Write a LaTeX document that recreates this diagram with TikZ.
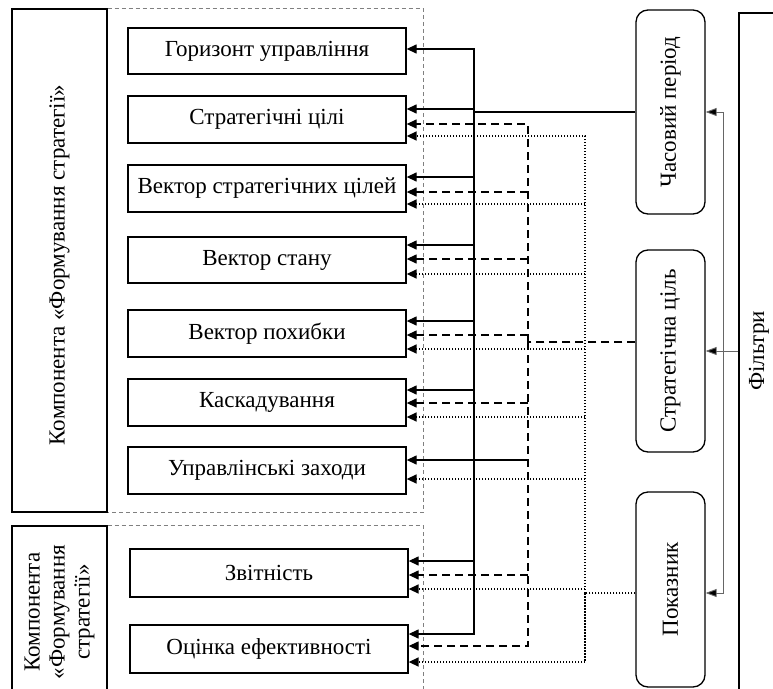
\documentclass[tikz,border=0pt]{standalone}
\usepackage{fontspec}
\setmainfont{Liberation Serif}
\usetikzlibrary{arrows.meta}
\newcommand\myfs{\fontsize{23}{25}\selectfont}
\newcommand\myconn[4]{\draw[#1] (#2 |- 0,#4) -- (#3.east |- 0,#4);}
\begin{document}
\begin{tikzpicture}[x=1pt,y=-1pt,
  tip/.tip={Triangle[length=10pt,width=9pt]},
  box/.style={draw, line width=1.3pt, minimum width=278pt, minimum height=47pt, inner sep=0pt, font=\myfs},
  rbox/.style={draw, line width=1.3pt, rounded corners=12pt, inner sep=0pt, font=\myfs, rotate=90},
  lbox/.style={draw, line width=1.3pt, minimum width=95pt, inner sep=0pt, font=\myfs, align=center},
  gdash/.style={draw=gray, line width=0.9pt, dash pattern=on 4pt off 3pt},
  sline/.style={line width=1.3pt},
  sarr/.style={sline, -tip},
  dline/.style={line width=1.3pt, dash pattern=on 8pt off 5pt},
  darr/.style={dline, -tip},
  oline/.style={line width=1.5pt, dash pattern=on 1.5pt off 1.5pt},
  oarr/.style={oline, -tip},
  farr/.style={draw=black!60, line width=0.9pt, -{Triangle[length=11pt,width=8pt,fill=black]}}
]
\useasboundingbox (0,0) rectangle (773,688);
\clip (0,0) rectangle (773,688);

% left component boxes
\node[lbox, minimum height=503pt] (lb1) at (59.5,260.5) {};
\node[font=\myfs, rotate=90] (lt1) at (59.5,265) {Компонента «Формування стратегії»};
\node[lbox, minimum height=172pt] (lb2) at (59.5,612) {};
\node[font=\myfs, rotate=90, align=center] (lt2) at (lb2.center) {Компонента\\«Формування\\стратегії»};

% gray dashed areas
\coordinate (gx) at (423,0);
\draw[gdash] (lb1.north east) -- (gx |- lb1.north east) -- (gx |- lb1.south east) -- (lb1.south east);
\draw[gdash] (lb2.north east) -- (gx |- lb2.north east) -- (gx |- 0,700);

% element boxes
\node[box, minimum height=46pt] (b1) at (267,51) {Горизонт управління};
\node[box] (b2) at (267,119.5) {Стратегічні цілі};
\node[box] (b3) at (267,188.5) {Вектор стратегічних цілей};
\node[box, minimum height=46pt] (b4) at (267,260) {Вектор стану};
\node[box] (b5) at (267,333.5) {Вектор похибки};
\node[box] (b6) at (267,402.5) {Каскадування};
\node[box] (b7) at (267,470.5) {Управлінські заходи};
\node[box, minimum height=48pt] (b8) at (269,573) {Звітність};
\node[box, minimum height=48pt] (b9) at (269,649) {Оцінка ефективності};

% right rounded boxes (rotated: north = left side, south = right side)
\node[rbox, minimum width=204pt, minimum height=69pt] (p1) at (670.5,112) {Часовий період};
\node[rbox, minimum width=202pt, minimum height=69pt] (p2) at (670.5,351) {Стратегічна ціль};
\node[rbox, minimum width=195pt, minimum height=69pt] (p3) at (670.5,589.5) {Показник};

% filters
\node[draw, line width=1.3pt, minimum width=42pt, minimum height=680pt, inner sep=0pt] (filt) at (760,353) {};
\node[font=\myfs, rotate=90] (ft) at (759,351) {Фільтри};

% buses
\coordinate (sbus) at (474,0);
\coordinate (dbus) at (528,0);
\coordinate (obus) at (585,0);
\coordinate (fx) at (723,0);

% solid (time period)
\draw[sline] (p1.north) -- (sbus |- p1.north);
\draw[sarr] (sbus |- p1.north) -- (sbus |- 0,49) -- (b1.east |- 0,49);
\draw[sarr] (sbus |- p1.north) -- (sbus |- 0,634) -- (b9.east |- 0,634);
\myconn{sarr}{sbus}{b2}{109}
\myconn{sarr}{sbus}{b3}{177}
\myconn{sarr}{sbus}{b4}{245}
\myconn{sarr}{sbus}{b5}{321}
\myconn{sarr}{sbus}{b6}{390}
\myconn{sarr}{dbus}{b7}{460}
\myconn{sarr}{sbus}{b8}{561}

% dashed (strategic goal)
\draw[dline] (p2.north |- 0,342) -- (dbus |- 0,342);
\draw[darr] (dbus |- 0,342) -- (dbus |- 0,124) -- (b2.east |- 0,124);
\draw[darr] (dbus |- 0,342) -- (dbus |- 0,646) -- (b9.east |- 0,646);
\myconn{darr}{dbus}{b3}{192}
\myconn{darr}{dbus}{b4}{259}
\myconn{darr}{dbus}{b5}{335}
\myconn{darr}{dbus}{b6}{403}
\myconn{darr}{dbus}{b8}{575}

% dotted (indicator)
\draw[oline] (p3.north |- 0,593) -- (obus |- 0,593);
\draw[oarr] (obus |- 0,593) -- (obus |- 0,136) -- (b2.east |- 0,136);
\draw[oarr] (obus |- 0,593) -- (obus |- 0,662) -- (b9.east |- 0,662);
\myconn{oarr}{obus}{b3}{204}
\myconn{oarr}{obus}{b4}{274}
\myconn{oarr}{obus}{b5}{349}
\myconn{oarr}{obus}{b6}{417}
\myconn{oarr}{obus}{b7}{479}
\myconn{oarr}{obus}{b8}{589}

% filter arrows
\draw[farr] (fx |- 0,593) -- (fx |- p1.south) -- (p1.south);
\draw[farr] (fx |- p1.south) -- (fx |- 0,593) -- (p3.south |- 0,593);
\draw[farr] (filt.west |- p2.south) -- (p2.south);
\end{tikzpicture}
\end{document}
